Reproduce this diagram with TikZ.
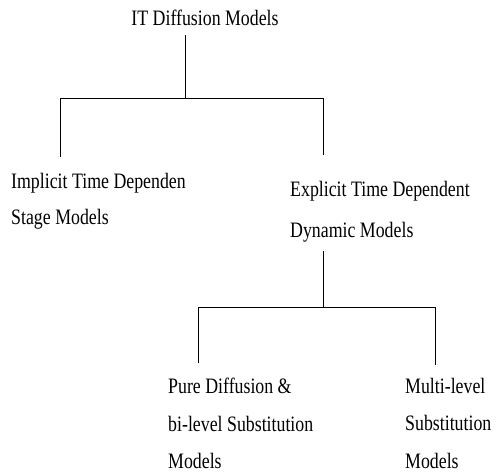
\documentclass[tikz,border=0pt]{standalone}
\usepackage{fontspec}
\newfontfamily\scanfont[FakeStretch=0.81]{Liberation Serif}
\usetikzlibrary{calc}
\tikzset{
    leaf/.style={anchor=north west,inner sep=0pt,align=left,font=\scanfont\fontsize{22}{#1}\selectfont},
    leaf/.default=37.5,
    branch/.style={line width=0.9pt}
}
\begin{document}
\begin{tikzpicture}[x=1pt,y=-1pt]
    \useasboundingbox (0,0) rectangle (497,474);
    % labels
    \node[inner sep=0pt,anchor=base,font=\scanfont\fontsize{22}{26}\selectfont] (root) at (205,25) {IT Diffusion Models};
    \node[leaf=36] (implicit) at (11,173) {Implicit Time Dependen\\Stage Models};
    \node[leaf=41] (explicit) at (290,181) {Explicit Time Dependent\\Dynamic Models};
    \node[leaf] (pure) at (168,378) {Pure Diffusion \&\\bi-level Substitution\\Models};
    \node[leaf] (multi) at (405,378) {Multi-level\\Substitution\\Models};
    % junctions
    \coordinate (j1) at (185,98);\coordinate (j1l) at (60,98);\coordinate (j1r) at (323,98);
    \coordinate (j2) at (323,307);\coordinate (j2l) at (198,307);\coordinate (j2r) at (435,307);
    % first level
    \draw[branch] ([yshift=-10pt]root.south -| j1) -- (j1);
    \draw[branch] ($(j1l |- implicit.north)+(0,-16)$) -- (j1l) -- (j1r) -- ($(j1r |- explicit.north)+(0,-26)$);
    % second level
    \draw[branch] ([yshift=-9pt]explicit.south -| j2) -- (j2);
    \draw[branch] ($(j2l |- pure.north)+(0,-15)$) -- (j2l) -- (j2r) -- ($(j2r |- multi.north)+(0,-13)$);
\end{tikzpicture}
\end{document}
